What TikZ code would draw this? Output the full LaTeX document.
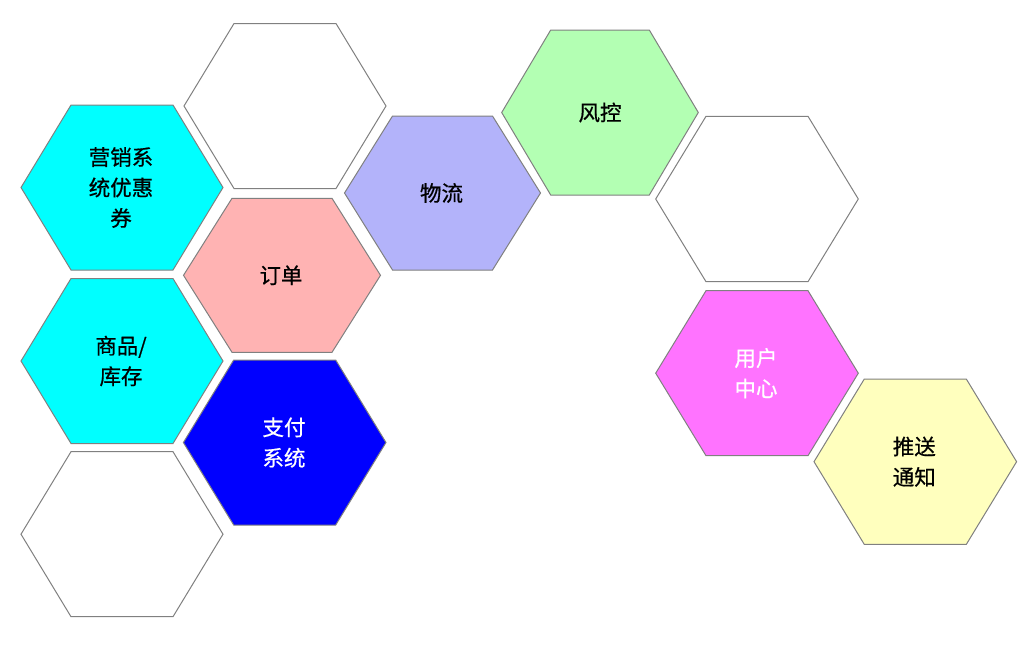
\documentclass[tikz,border=0pt]{standalone}
\usepackage{fontspec}
\newfontfamily\cjk{Noto Sans CJK SC}[FakeBold=0.6]
\definecolor{hexcyan}{HTML}{00FFFF}
\definecolor{hexpink}{HTML}{FFB3B3}
\definecolor{hexpurple}{HTML}{B3B3FA}
\definecolor{hexgreen}{HTML}{B3FFB3}
\definecolor{hexblue}{HTML}{0000FF}
\definecolor{hexmagenta}{HTML}{FF73FF}
\definecolor{hexyellow}{HTML}{FFFFBE}
\definecolor{hexline}{HTML}{808080}
\tikzset{
  hexshape/.style={draw=hexline, line width=1pt, line join=miter},
  hexlabel/.style={font=\cjk\fontsize{21.5pt}{30.5pt}\selectfont, align=center, text=black, inner sep=0pt},
  hexlabelw/.style={hexlabel, text=white}
}
% cx cy halfwidth halftopedge halfheight fill
\newcommand\hexcell[6]{%
  \path[hexshape, fill=#6] ({#1-#3},#2) -- ({#1-#4},{#2-#5}) -- ({#1+#4},{#2-#5}) -- ({#1+#3},#2) -- ({#1+#4},{#2+#5}) -- ({#1-#4},{#2+#5}) -- cycle;}
\begin{document}
\begin{tikzpicture}[x=1pt,y=-1pt]
\useasboundingbox (0,0) rectangle (1034,646);
\fill[white] (0,0) rectangle (1034,646);
% hexagons
\hexcell{285}{106}{101}{51}{82.5}{white}
\hexcell{122}{187.5}{101}{51}{82.5}{hexcyan}
\hexcell{282}{275.3}{98.5}{50}{77}{hexpink}
\hexcell{442.5}{193}{98}{50}{77}{hexpurple}
\hexcell{600}{112.5}{98.3}{49.3}{82.5}{hexgreen}
\hexcell{757}{199}{101.3}{51}{82.7}{white}
\hexcell{122}{361}{101}{51}{82.5}{hexcyan}
\hexcell{284.7}{442.5}{101.3}{51}{82.5}{hexblue}
\hexcell{122}{534.2}{101}{51}{82.5}{white}
\hexcell{757}{373.2}{101.3}{51}{82.5}{hexmagenta}
\hexcell{915.3}{461.7}{101.3}{51}{82.7}{hexyellow}
% labels
\node[hexlabel] (yingxiao) at (121,187.5) {营销系\\统优惠\\券};
\node[hexlabel] (dingdan) at (281,275.3) {订单};
\node[hexlabel] (wuliu) at (441.5,193) {物流};
\node[hexlabel] (fengkong) at (600,112.5) {风控};
\node[hexlabel] (shangpin) at (121,361) {商品/\\库存};
\node[hexlabelw] (zhifu) at (284,442.5) {支付\\系统};
\node[hexlabelw] (yonghu) at (756,373.2) {用户\\中心};
\node[hexlabel] (tuisong) at (914.3,461.7) {推送\\通知};
\end{tikzpicture}
\end{document}
